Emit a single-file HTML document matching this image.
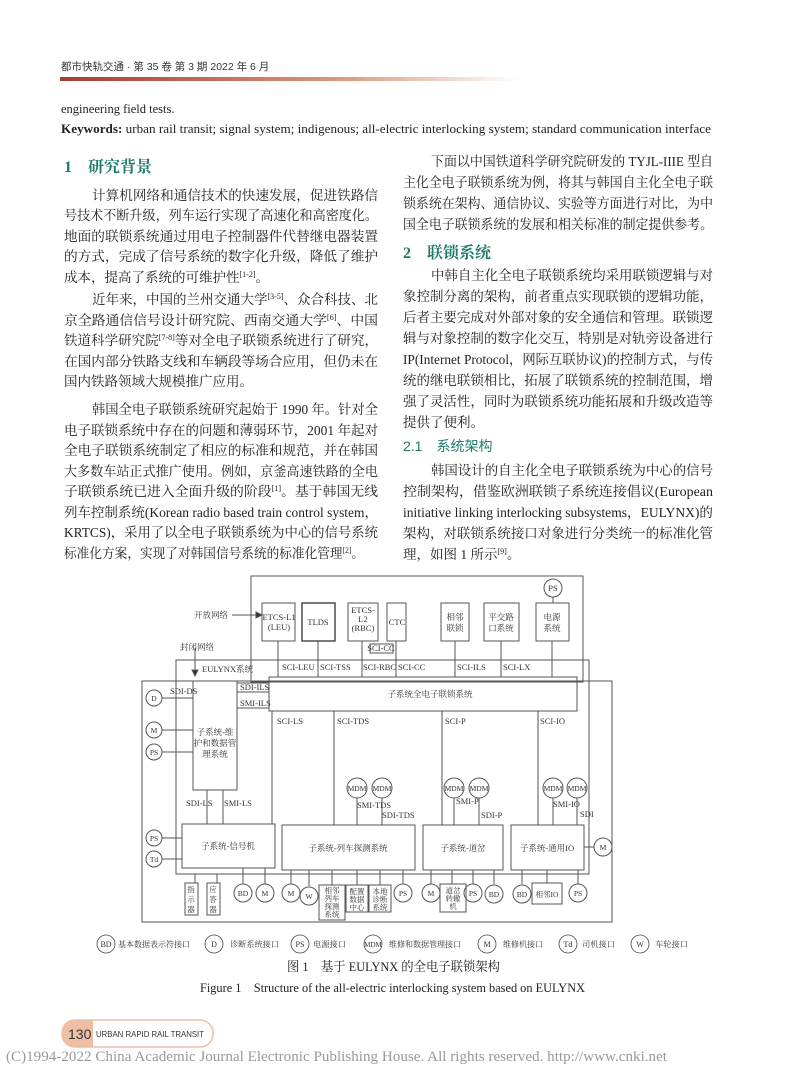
<!DOCTYPE html>
<html><head><meta charset="utf-8"><style>
html,body{margin:0;padding:0;background:#fff}
svg{display:block}
.b{font-family:"Liberation Serif","Noto Serif CJK SC",serif;font-size:13.5px;fill:#222}
.h{font-family:"Liberation Serif","Noto Serif CJK SC",serif;font-size:16px;fill:#1f7a6c;font-weight:bold}
.d{font-family:"Liberation Serif","Noto Serif CJK SC",serif;font-size:8.5px;fill:#333}
.s{font-family:"Liberation Sans","Noto Sans CJK SC",sans-serif}
</style></head><body>
<svg width="800" height="1087" viewBox="0 0 800 1087" xmlns="http://www.w3.org/2000/svg">
<defs><linearGradient id="g" x1="0" x2="1"><stop offset="0" stop-color="#a83a32"/><stop offset="0.6" stop-color="#d8987a"/><stop offset="1" stop-color="#fff"/></linearGradient></defs>
<text x="61" y="70" class="s" font-size="10.5" fill="#333">都市快轨交通 · 第 35 卷  第 3 期  2022 年 6 月</text>
<rect x="60" y="77" width="460" height="4" fill="url(#g)"/>
<text x="61" y="113" class="b" style="font-size:12.5px">engineering field tests.</text>
<text x="61" y="133" class="b" style="font-size:12.5px" textLength="650" lengthAdjust="spacingAndGlyphs"><tspan font-weight="bold">Keywords:</tspan> urban rail transit; signal system; indigenous; all-electric interlocking system; standard communication interface</text>

<text x="64" y="172" class="h">1　研究背景</text>
<g class="b">
<text x="92" y="200" textLength="286" lengthAdjust="spacingAndGlyphs">计算机网络和通信技术的快速发展，促进铁路信</text>
<text x="64" y="220" textLength="314" lengthAdjust="spacingAndGlyphs">号技术不断升级，列车运行实现了高速化和高密度化。</text>
<text x="64" y="241" textLength="314" lengthAdjust="spacingAndGlyphs">地面的联锁系统通过用电子控制器件代替继电器装置</text>
<text x="64" y="261" textLength="314" lengthAdjust="spacingAndGlyphs">的方式，完成了信号系统的数字化升级，降低了维护</text>
<text x="64" y="282">成本，提高了系统的可维护性<tspan font-size="8" dy="-5">[1-2]</tspan><tspan dy="5">。</tspan></text>
<text x="92" y="304" textLength="286" lengthAdjust="spacingAndGlyphs">近年来，中国的兰州交通大学<tspan font-size="8" dy="-5">[3-5]</tspan><tspan dy="5">、众合科技、北</tspan></text>
<text x="64" y="325" textLength="314" lengthAdjust="spacingAndGlyphs">京全路通信信号设计研究院、西南交通大学<tspan font-size="8" dy="-5">[6]</tspan><tspan dy="5">、中国</tspan></text>
<text x="64" y="345" textLength="314" lengthAdjust="spacingAndGlyphs">铁道科学研究院<tspan font-size="8" dy="-5">[7-8]</tspan><tspan dy="5">等对全电子联锁系统进行了研究，</tspan></text>
<text x="64" y="366" textLength="314" lengthAdjust="spacingAndGlyphs">在国内部分铁路支线和车辆段等场合应用，但仍未在</text>
<text x="64" y="386">国内铁路领域大规模推广应用。</text>
<text x="92" y="414" textLength="286" lengthAdjust="spacingAndGlyphs">韩国全电子联锁系统研究起始于 1990 年。针对全</text>
<text x="64" y="435" textLength="314" lengthAdjust="spacingAndGlyphs">电子联锁系统中存在的问题和薄弱环节，2001 年起对</text>
<text x="64" y="455" textLength="314" lengthAdjust="spacingAndGlyphs">全电子联锁系统制定了相应的标准和规范，并在韩国</text>
<text x="64" y="476" textLength="314" lengthAdjust="spacingAndGlyphs">大多数车站正式推广使用。例如，京釜高速铁路的全电</text>
<text x="64" y="496" textLength="314" lengthAdjust="spacingAndGlyphs">子联锁系统已进入全面升级的阶段<tspan font-size="8" dy="-5">[1]</tspan><tspan dy="5">。基于韩国无线</tspan></text>
<text x="64" y="517" textLength="314" lengthAdjust="spacingAndGlyphs">列车控制系统(Korean radio based train control system，</text>
<text x="64" y="537" textLength="314" lengthAdjust="spacingAndGlyphs">KRTCS)，采用了以全电子联锁系统为中心的信号系统</text>
<text x="64" y="558" textLength="300" lengthAdjust="spacingAndGlyphs">标准化方案，实现了对韩国信号系统的标准化管理<tspan font-size="8" dy="-5">[2]</tspan><tspan dy="5">。</tspan></text>

<text x="431" y="166" textLength="282" lengthAdjust="spacingAndGlyphs">下面以中国铁道科学研究院研发的 TYJL-IIIE 型自</text>
<text x="403" y="187" textLength="310" lengthAdjust="spacingAndGlyphs">主化全电子联锁系统为例，将其与韩国自主化全电子联</text>
<text x="403" y="208" textLength="310" lengthAdjust="spacingAndGlyphs">锁系统在架构、通信协议、实验等方面进行对比，为中</text>
<text x="403" y="229" textLength="310" lengthAdjust="spacingAndGlyphs">国全电子联锁系统的发展和相关标准的制定提供参考。</text>
</g>
<text x="403" y="258" class="h">2　联锁系统</text>
<g class="b">
<text x="431" y="280" textLength="282" lengthAdjust="spacingAndGlyphs">中韩自主化全电子联锁系统均采用联锁逻辑与对</text>
<text x="403" y="301" textLength="310" lengthAdjust="spacingAndGlyphs">象控制分离的架构，前者重点实现联锁的逻辑功能，</text>
<text x="403" y="322" textLength="310" lengthAdjust="spacingAndGlyphs">后者主要完成对外部对象的安全通信和管理。联锁逻</text>
<text x="403" y="343" textLength="310" lengthAdjust="spacingAndGlyphs">辑与对象控制的数字化交互，特别是对轨旁设备进行</text>
<text x="403" y="364" textLength="310" lengthAdjust="spacingAndGlyphs">IP(Internet Protocol，网际互联协议)的控制方式，与传</text>
<text x="403" y="385" textLength="310" lengthAdjust="spacingAndGlyphs">统的继电联锁相比，拓展了联锁系统的控制范围，增</text>
<text x="403" y="406" textLength="310" lengthAdjust="spacingAndGlyphs">强了灵活性，同时为联锁系统功能拓展和升级改造等</text>
<text x="403" y="427">提供了便利。</text>
</g>
<text x="403" y="451" class="s" font-size="14" fill="#1f7a6c">2.1　系统架构</text>
<g class="b">
<text x="431" y="475" textLength="282" lengthAdjust="spacingAndGlyphs">韩国设计的自主化全电子联锁系统为中心的信号</text>
<text x="403" y="496" textLength="310" lengthAdjust="spacingAndGlyphs">控制架构，借鉴欧洲联锁子系统连接倡议(European</text>
<text x="403" y="517" textLength="310" lengthAdjust="spacingAndGlyphs">initiative linking interlocking subsystems，EULYNX)的</text>
<text x="403" y="538" textLength="310" lengthAdjust="spacingAndGlyphs">架构，对联锁系统接口对象进行分类统一的标准化管</text>
<text x="403" y="559">理，如图 1 所示<tspan font-size="8" dy="-5">[9]</tspan><tspan dy="5">。</tspan></text>
</g>

<g fill="none" stroke="#555" stroke-width="1">
<rect x="251" y="576" width="332" height="106"/>
<circle cx="553" cy="588" r="9"/>
<line x1="553" y1="597" x2="553" y2="603"/>
<rect x="262" y="603" width="33" height="38"/>
<rect x="302" y="603" width="33" height="38" stroke="#333" stroke-width="1.3"/>
<rect x="348" y="603" width="30" height="38"/>
<rect x="387" y="603" width="19" height="38"/>
<rect x="441" y="603" width="28" height="38"/>
<rect x="484" y="603" width="35" height="38"/>
<rect x="536" y="603" width="33" height="38"/>
<rect x="370" y="644" width="23" height="9"/>
<rect x="176" y="660" width="413" height="214"/>
<rect x="142" y="681" width="470" height="241"/>
<rect x="269" y="677" width="308" height="34"/>
<line x1="278" y1="641" x2="278" y2="677"/><line x1="318" y1="641" x2="318" y2="677"/>
<line x1="362" y1="641" x2="362" y2="677"/><line x1="396" y1="641" x2="396" y2="677"/>
<line x1="455" y1="641" x2="455" y2="677"/><line x1="501" y1="641" x2="501" y2="677"/>
<line x1="552" y1="641" x2="552" y2="677"/>
<line x1="232" y1="615" x2="262" y2="615"/>
<polygon points="262,615 256,612 256,618" fill="#333"/>
<line x1="195" y1="648" x2="195" y2="671"/>
<polygon points="195,676 192,670 198,670" fill="#333"/>
<rect x="193" y="681" width="44" height="109"/>
<line x1="237" y1="683" x2="269" y2="683"/><line x1="237" y1="692" x2="269" y2="692"/><line x1="237" y1="708" x2="269" y2="708"/>
<circle cx="154" cy="698" r="8"/><line x1="162" y1="698" x2="193" y2="698"/>
<circle cx="154" cy="730" r="8"/><line x1="162" y1="730" x2="193" y2="730"/>
<circle cx="154" cy="752" r="8"/><line x1="162" y1="752" x2="193" y2="752"/>
<circle cx="154" cy="838" r="8"/><line x1="162" y1="838" x2="182" y2="838"/>
<circle cx="154" cy="859" r="8"/><line x1="162" y1="859" x2="182" y2="859"/>
<line x1="272" y1="711" x2="272" y2="824"/>
<line x1="334" y1="711" x2="334" y2="825"/>
<line x1="442" y1="711" x2="442" y2="825"/>
<line x1="538" y1="711" x2="538" y2="825"/>
<line x1="207" y1="790" x2="207" y2="824"/><line x1="223" y1="790" x2="223" y2="824"/>
<rect x="182" y="824" width="93" height="44"/>
<rect x="282" y="825" width="133" height="45"/>
<rect x="423" y="825" width="80" height="45"/>
<rect x="511" y="825" width="73" height="45"/>
<circle cx="357" cy="788" r="10"/><circle cx="382" cy="788" r="10"/>
<line x1="357" y1="798" x2="357" y2="825"/><line x1="382" y1="798" x2="382" y2="825"/>
<circle cx="454" cy="788" r="10"/><circle cx="479" cy="788" r="10"/>
<line x1="454" y1="798" x2="454" y2="825"/><line x1="479" y1="798" x2="479" y2="825"/>
<circle cx="553" cy="788" r="10"/><circle cx="577" cy="788" r="10"/>
<line x1="553" y1="798" x2="553" y2="825"/><line x1="577" y1="798" x2="577" y2="825"/>
<circle cx="603" cy="847" r="9"/><line x1="584" y1="847" x2="594" y2="847"/>
<line x1="195" y1="874" x2="195" y2="883"/><line x1="217" y1="874" x2="217" y2="883"/>
<line x1="243" y1="868" x2="243" y2="884"/><line x1="265" y1="868" x2="265" y2="884"/>
<line x1="291" y1="870" x2="291" y2="884"/><line x1="309" y1="870" x2="309" y2="886"/>
<line x1="332" y1="870" x2="332" y2="885"/><line x1="357" y1="870" x2="357" y2="885"/>
<line x1="380" y1="870" x2="380" y2="885"/><line x1="403" y1="870" x2="403" y2="884"/>
<line x1="431" y1="870" x2="431" y2="884"/><line x1="452" y1="870" x2="452" y2="884"/>
<line x1="473" y1="870" x2="473" y2="884"/><line x1="494" y1="870" x2="494" y2="884"/>
<line x1="522" y1="870" x2="522" y2="884"/><line x1="547" y1="870" x2="547" y2="883"/>
<line x1="578" y1="870" x2="578" y2="884"/>
<rect x="185" y="883" width="13" height="32"/><rect x="207" y="883" width="13" height="32"/>
<circle cx="243" cy="893" r="9"/><circle cx="265" cy="893" r="9"/>
<circle cx="291" cy="893" r="9"/><circle cx="309" cy="896" r="9"/>
<rect x="319" y="885" width="26" height="35"/><rect x="346" y="885" width="22" height="27"/><rect x="369" y="885" width="22" height="27"/>
<circle cx="403" cy="893" r="9"/>
<circle cx="431" cy="893" r="9"/><rect x="440" y="884" width="26" height="28"/>
<circle cx="473" cy="893" r="9"/><circle cx="494" cy="894" r="9"/>
<circle cx="522" cy="894" r="9"/><rect x="532" y="883" width="30" height="21"/><circle cx="578" cy="893" r="9"/>
</g>
<g class="d" text-anchor="middle">
<text x="553" y="591">PS</text>
<text x="279" y="620">ETCS-L1</text><text x="279" y="630">(LEU)</text>
<text x="318" y="625">TLDS</text>
<text x="363" y="613">ETCS-</text><text x="363" y="622">L2</text><text x="363" y="631">(RBC)</text>
<text x="397" y="625">CTC</text>
<text x="455" y="620">相邻</text><text x="455" y="631">联锁</text>
<text x="501" y="620">平交路</text><text x="501" y="631">口系统</text>
<text x="552" y="620">电源</text><text x="552" y="631">系统</text>
<text x="381" y="651">SCI-CC</text>
<text x="430" y="697">子系统全电子联锁系统</text>
<text x="215" y="735">子系统-维</text><text x="215" y="746">护和数据管</text><text x="215" y="757">理系统</text>
<text x="228" y="849">子系统-信号机</text>
<text x="348" y="851">子系统-列车探测系统</text>
<text x="463" y="851">子系统-道岔</text>
<text x="547" y="851">子系统-通用IO</text>
<g font-size="7.5">
<text x="357" y="791">MDM</text><text x="382" y="791">MDM</text>
<text x="454" y="791">MDM</text><text x="479" y="791">MDM</text>
<text x="553" y="791">MDM</text><text x="577" y="791">MDM</text>
<text x="154" y="701">D</text><text x="154" y="733">M</text><text x="154" y="755">PS</text>
<text x="154" y="841">PS</text><text x="154" y="862">Td</text><text x="603" y="850">M</text>
<text x="243" y="896">BD</text><text x="265" y="896">M</text><text x="291" y="896">M</text><text x="309" y="899">W</text>
<text x="403" y="896">PS</text><text x="431" y="896">M</text><text x="473" y="896">PS</text><text x="494" y="897">BD</text>
<text x="522" y="897">BD</text><text x="547" y="897">相邻IO</text><text x="578" y="896">PS</text>
<text x="191" y="892">指</text><text x="191" y="902">示</text><text x="191" y="912">器</text>
<text x="213" y="892">应</text><text x="213" y="902">答</text><text x="213" y="912">器</text>
<text x="332" y="893">相邻</text><text x="332" y="901">列车</text><text x="332" y="909">探测</text><text x="332" y="917">系统</text>
<text x="357" y="894">配置</text><text x="357" y="902">数据</text><text x="357" y="910">中心</text>
<text x="380" y="894">本地</text><text x="380" y="902">诊断</text><text x="380" y="910">系统</text>
<text x="453" y="893">道岔</text><text x="453" y="901">转辙</text><text x="453" y="909">机</text>
</g>
</g>
<g class="d">
<text x="194" y="618">开放网络</text>
<text x="180" y="650">封闭网络</text>
<text x="202" y="672">EULYNX系统</text>
<text x="282" y="670">SCI-LEU</text><text x="320" y="670">SCI-TSS</text><text x="363" y="670">SCI-RBC</text><text x="398" y="670">SCI-CC</text>
<text x="457" y="670">SCI-ILS</text><text x="503" y="670">SCI-LX</text>
<text x="170" y="694">SDI-DS</text>
<text x="240" y="690">SDI-ILS</text><text x="240" y="706">SMI-ILS</text>
<text x="277" y="724">SCI-LS</text><text x="337" y="724">SCI-TDS</text><text x="445" y="724">SCI-P</text><text x="540" y="724">SCI-IO</text>
<text x="186" y="806">SDI-LS</text><text x="224" y="806">SMI-LS</text>
<text x="357" y="808">SMI-TDS</text><text x="382" y="818">SDI-TDS</text>
<text x="456" y="804">SMI-P</text><text x="481" y="818">SDI-P</text>
<text x="553" y="807">SMI-IO</text><text x="580" y="817">SDI</text>
</g>
<g fill="none" stroke="#444" stroke-width="0.8">
<circle cx="106" cy="944" r="9"/><circle cx="214" cy="944" r="9"/><circle cx="300" cy="944" r="9"/>
<circle cx="373" cy="944" r="9"/><circle cx="487" cy="944" r="9"/><circle cx="568" cy="944" r="9"/><circle cx="640" cy="944" r="9"/>
</g>
<g class="d" style="font-size:8px">
<text x="106" y="947" text-anchor="middle">BD</text><text x="118" y="947" textLength="72" lengthAdjust="spacingAndGlyphs">基本数据表示符接口</text>
<text x="214" y="947" text-anchor="middle">D</text><text x="230" y="947" textLength="49" lengthAdjust="spacingAndGlyphs">诊断系统接口</text>
<text x="300" y="947" text-anchor="middle">PS</text><text x="313" y="947" textLength="33" lengthAdjust="spacingAndGlyphs">电源接口</text>
<text x="373" y="947" text-anchor="middle" style="font-size:7px">MDM</text><text x="389" y="947" textLength="72" lengthAdjust="spacingAndGlyphs">维修和数据管理接口</text>
<text x="487" y="947" text-anchor="middle">M</text><text x="503" y="947" textLength="40" lengthAdjust="spacingAndGlyphs">维修机接口</text>
<text x="568" y="947" text-anchor="middle">Td</text><text x="582" y="947" textLength="33" lengthAdjust="spacingAndGlyphs">司机接口</text>
<text x="640" y="947" text-anchor="middle">W</text><text x="655" y="947" textLength="33" lengthAdjust="spacingAndGlyphs">车轮接口</text>
</g>
<text x="287" y="971" class="b" style="font-size:13px" textLength="213" lengthAdjust="spacingAndGlyphs">图 1　基于 EULYNX 的全电子联锁架构</text>
<text x="200" y="992" class="b" style="font-size:13px" textLength="385" lengthAdjust="spacingAndGlyphs">Figure 1　Structure of the all-electric interlocking system based on EULYNX</text>
<rect x="62" y="1020" width="151" height="27" rx="13" fill="#fff" stroke="#eebfa5" stroke-width="1.5"/>
<path d="M75,1020 H93 V1047 H75 A13,13 0 0 1 75,1020 Z" fill="#eebfa5"/>
<text x="68" y="1039" class="s" font-size="14" fill="#333">130</text>
<text x="96" y="1037" class="s" font-size="8.5" fill="#333" textLength="108" lengthAdjust="spacingAndGlyphs">URBAN RAPID RAIL TRANSIT</text>
<text x="6" y="1061" class="b" style="font-size:15px;fill:#999" textLength="661" lengthAdjust="spacingAndGlyphs">(C)1994-2022 China Academic Journal Electronic Publishing House. All rights reserved.    http://www.cnki.net</text>
</svg>
</body></html>
